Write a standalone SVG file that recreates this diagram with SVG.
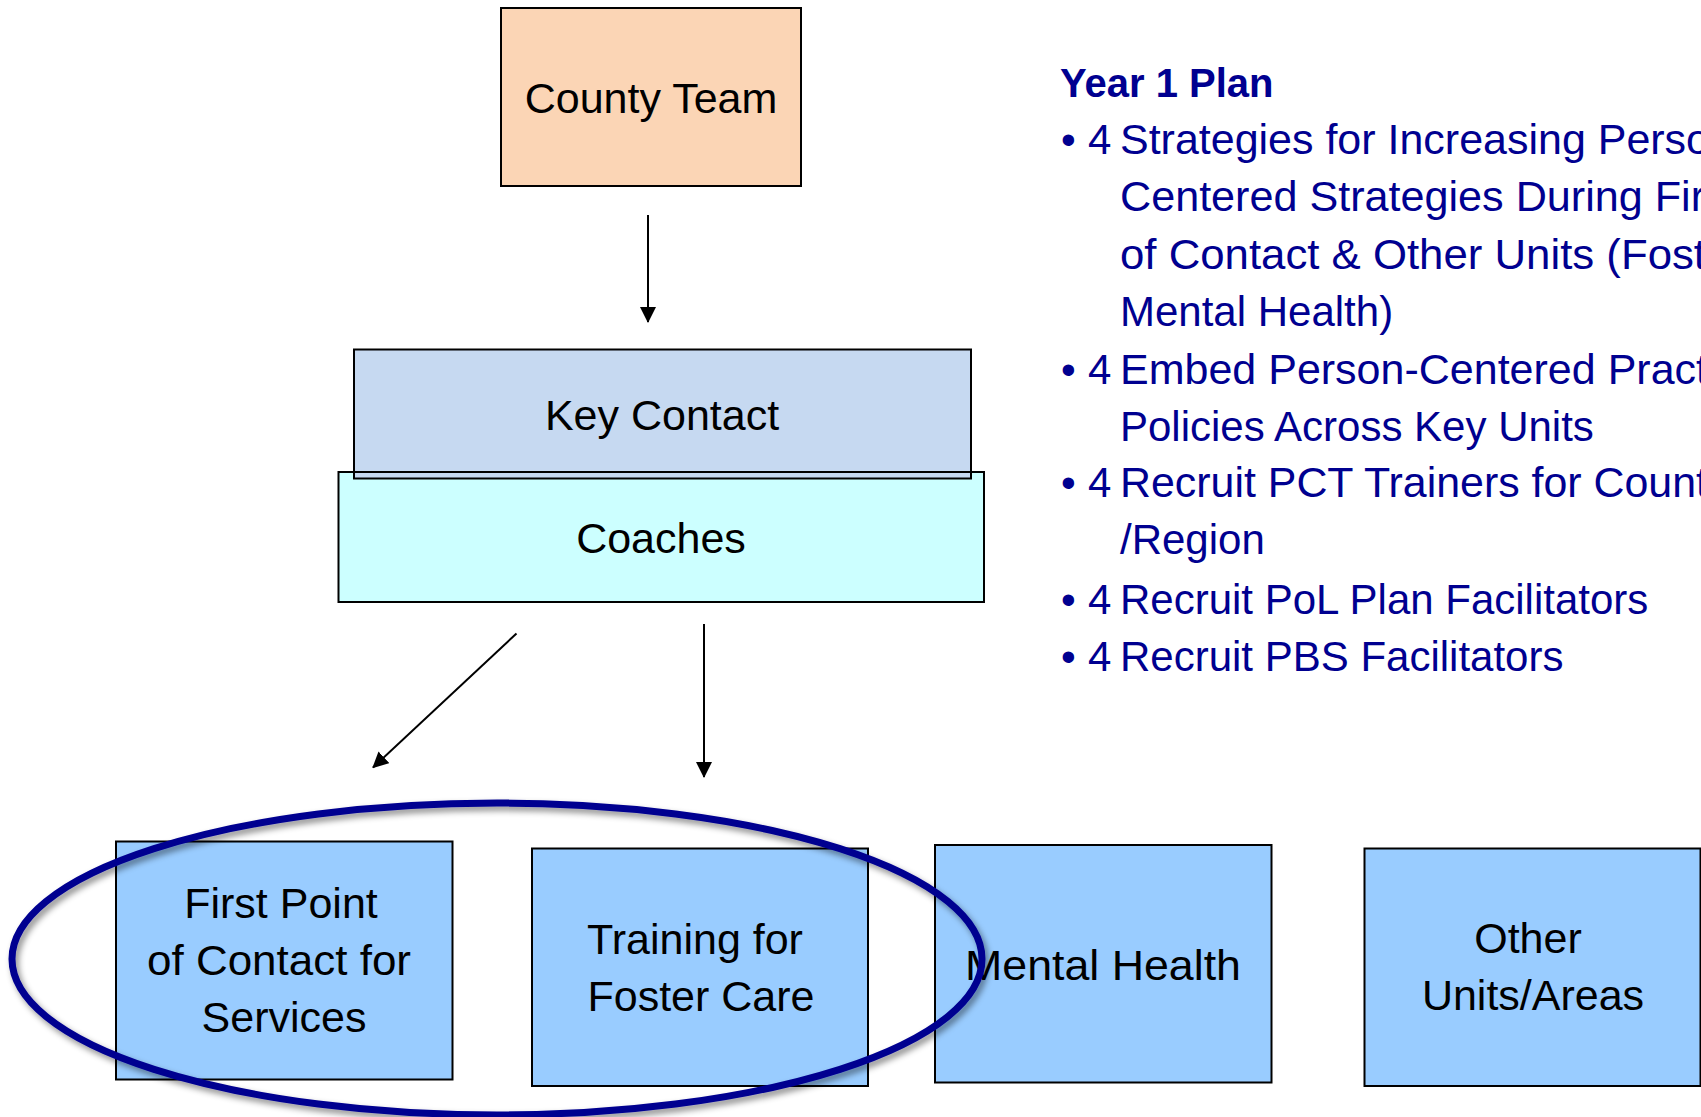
<svg xmlns="http://www.w3.org/2000/svg" width="1701" height="1117" viewBox="0 0 1701 1117">
<style>
  .box { stroke: #000; stroke-width: 2; }
  .lbl { font-family: "Liberation Sans", Arial, sans-serif; font-size: 43px; fill: #000; text-anchor: middle; }
  .plan { font-family: "Liberation Sans", Arial, sans-serif; font-size: 42px; fill: #000090; }
  .head { font-family: "Liberation Sans", Arial, sans-serif; font-size: 40px; font-weight: bold; fill: #000090; }
  .conn { stroke: #000; stroke-width: 2; fill: none; marker-end: url(#arr); }
  .unit { fill: #99CCFF; }
</style>
<defs>
  <marker id="arr" viewBox="0 0 16 16" markerWidth="16" markerHeight="16" markerUnits="userSpaceOnUse" refX="15" refY="8" orient="auto">
    <path d="M0,0 L16,8 L0,16 z" fill="#000"/>
  </marker>
  <filter id="shadow" x="-10%" y="-20%" width="120%" height="140%">
    <feGaussianBlur in="SourceAlpha" stdDeviation="3" result="b"/>
    <feOffset in="b" dx="3" dy="4" result="o"/>
    <feFlood flood-color="#000" flood-opacity="0.45"/>
    <feComposite in2="o" operator="in" result="s"/>
    <feMerge><feMergeNode in="s"/><feMergeNode in="SourceGraphic"/></feMerge>
  </filter>
</defs>
<rect width="1701" height="1117" fill="#fff"/>

<g id="county-team">
  <rect class="box" x="501" y="8" width="300" height="178" fill="#FBD5B5"/>
  <text class="lbl" x="651" y="113">County Team</text>
</g>

<g id="coaches">
  <rect class="box" x="338.5" y="472" width="645.5" height="130" fill="#CCFFFF"/>
  <text class="lbl" x="661" y="552.5">Coaches</text>
</g>

<g id="key-contact">
  <rect class="box" x="354" y="349.5" width="617" height="129" fill="#C6D9F1"/>
  <line x1="354" y1="472" x2="971" y2="472" stroke="#000" stroke-width="2"/>
  <text class="lbl" x="662" y="430">Key Contact</text>
</g>

<g id="connectors">
  <line class="conn" x1="648" y1="215" x2="648" y2="322"/>
  <line class="conn" x1="516.5" y1="633.5" x2="373" y2="767.5"/>
  <line class="conn" x1="704" y1="624" x2="704" y2="777"/>
</g>

<g id="first-point">
  <rect class="box unit" x="116" y="841.5" width="336.5" height="238"/>
  <text class="lbl" x="281" y="918">First Point</text>
  <text class="lbl" x="279" y="975" textLength="264" lengthAdjust="spacingAndGlyphs">of Contact for</text>
  <text class="lbl" x="284" y="1032">Services</text>
</g>

<g id="training-foster-care">
  <rect class="box unit" x="532" y="848.5" width="336" height="237.5"/>
  <text class="lbl" x="695" y="954">Training for</text>
  <text class="lbl" x="701" y="1010.5">Foster Care</text>
</g>

<g id="mental-health">
  <rect class="box unit" x="935" y="845" width="336.5" height="237.5"/>
  <text class="lbl" x="1103" y="980" textLength="276" lengthAdjust="spacingAndGlyphs">Mental Health</text>
</g>

<g id="other-units">
  <rect class="box unit" x="1364.5" y="848.5" width="336" height="237.5"/>
  <text class="lbl" x="1528" y="953">Other</text>
  <text class="lbl" x="1533" y="1010">Units/Areas</text>
</g>

<g id="highlight">
  <ellipse cx="497" cy="959" rx="485" ry="156" fill="none" stroke="#000090" stroke-width="7" filter="url(#shadow)"/>
</g>

<g id="year1-plan">
  <text class="head" x="1060" y="97">Year 1 Plan</text>
  <g class="plan">
    <text x="1061" y="154">•</text><text x="1088" y="154">4</text>
    <text x="1120" y="154" textLength="590" lengthAdjust="spacingAndGlyphs">Strategies for Increasing Perso</text>
    <text x="1120" y="211" textLength="585" lengthAdjust="spacingAndGlyphs">Centered Strategies During Fir</text>
    <text x="1120" y="268.5" textLength="586" lengthAdjust="spacingAndGlyphs">of Contact &amp; Other Units (Fost</text>
    <text x="1120" y="325.5">Mental Health)</text>
    <text x="1061" y="383.5">•</text><text x="1088" y="383.5">4</text>
    <text x="1120" y="383.5" textLength="588" lengthAdjust="spacingAndGlyphs">Embed Person-Centered Pract</text>
    <text x="1120" y="440.5">Policies Across Key Units</text>
    <text x="1061" y="497">•</text><text x="1088" y="497">4</text>
    <text x="1120" y="497" textLength="588" lengthAdjust="spacingAndGlyphs">Recruit PCT Trainers for Count</text>
    <text x="1120" y="554">/Region</text>
    <text x="1061" y="614">•</text><text x="1088" y="614">4</text>
    <text x="1120" y="614">Recruit PoL Plan Facilitators</text>
    <text x="1061" y="671">•</text><text x="1088" y="671">4</text>
    <text x="1120" y="671">Recruit PBS Facilitators</text>
  </g>
</g>
</svg>
